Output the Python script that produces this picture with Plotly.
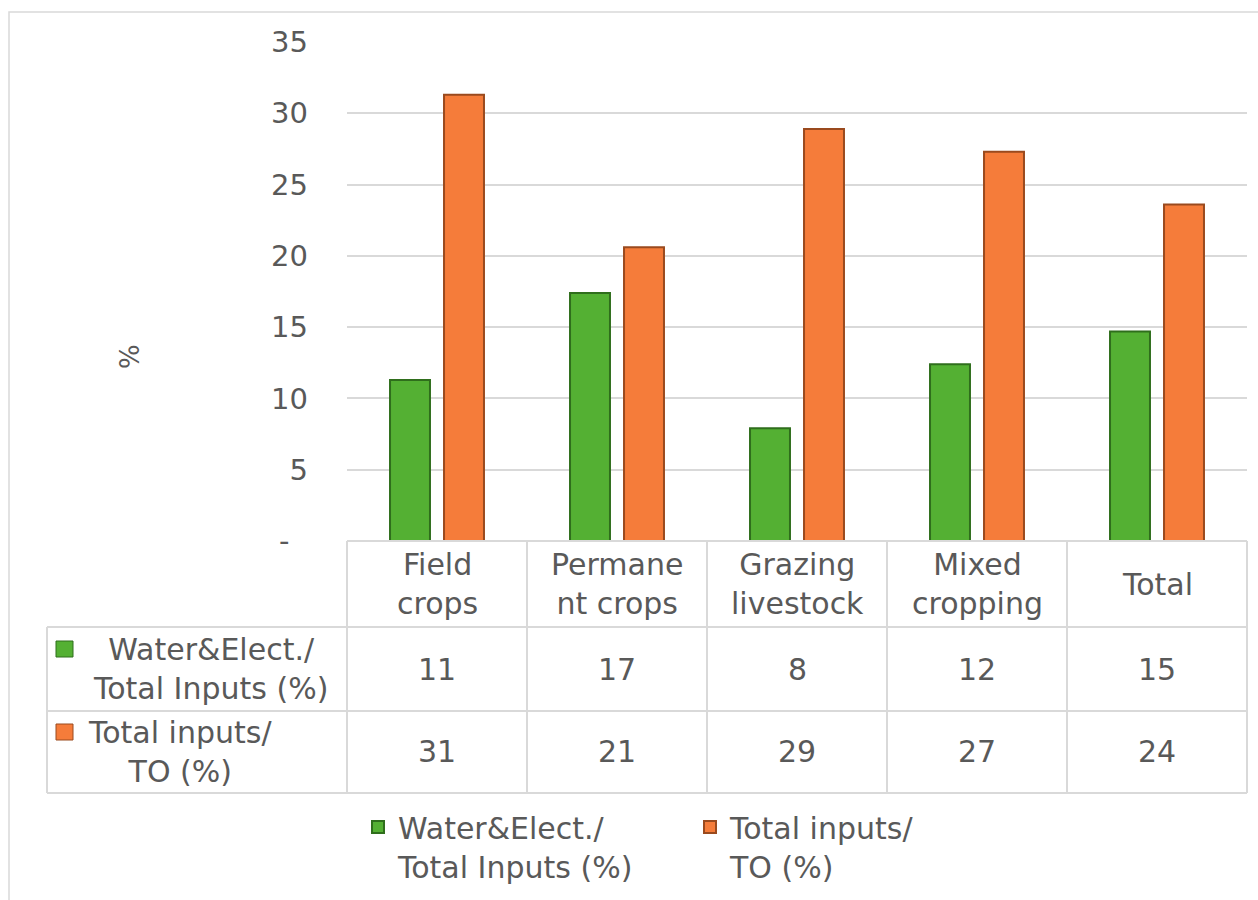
import plotly.graph_objects as go

categories = ["Field crops", "Permanent crops", "Grazing livestock", "Mixed cropping", "Total"]
header_labels = ["Field<br>crops", "Permane<br>nt crops", "Grazing<br>livestock", "Mixed<br>cropping", "Total"]
water_elect = [11.3, 17.4, 7.9, 12.4, 14.7]
total_inputs = [31.3, 20.6, 28.9, 27.3, 23.6]
series_names = ["Water&Elect./<br>Total Inputs (%)", "Total inputs/<br>TO (%)"]
tick_vals = [0, 5, 10, 15, 20, 25, 30, 35]
tick_text = ["-\u00a0\u00a0", "5", "10", "15", "20", "25", "30", "35"]

GREEN = "#54B033"
GREEN_EDGE = "#2F6E1C"
ORANGE = "#F57C3A"
ORANGE_EDGE = "#9A4A1E"
TEXT = "#595959"
GRID = "#D9D9D9"
FONT = "DejaVu Sans"
FS = 30

W, H = 1258, 900
ML, MR, MT, MB = 347, 11, 42, 359
PW = W - ML - MR
PH = H - MT - MB

def px_y(py):
    return (H - MB - py) / PH

def px_x(px):
    return (px - ML) / PW

fig = go.Figure()
fig.add_trace(go.Bar(x=categories, y=water_elect, name=series_names[0],
                     marker=dict(color=GREEN, line=dict(color=GREEN_EDGE, width=2))))
fig.add_trace(go.Bar(x=categories, y=total_inputs, name=series_names[1],
                     marker=dict(color=ORANGE, line=dict(color=ORANGE_EDGE, width=2))))

shapes = []
annotations = []
n = len(categories)
y_top, y_r1, y_r2, y_bot = 541, 627, 711, 793
x_left = 47
line = dict(color=GRID, width=2)
shapes.append(dict(type="line", xref="paper", yref="paper", x0=0, x1=1,
                   y0=px_y(y_top), y1=px_y(y_top), line=line))
for yy in (y_r1, y_r2, y_bot):
    shapes.append(dict(type="line", xref="paper", yref="paper", x0=px_x(x_left), x1=1,
                       y0=px_y(yy), y1=px_y(yy), line=line))
for i in range(n + 1):
    shapes.append(dict(type="line", xref="paper", yref="paper", x0=i / n, x1=i / n,
                       y0=px_y(y_top), y1=px_y(y_bot), line=line))
shapes.append(dict(type="line", xref="paper", yref="paper", x0=px_x(x_left), x1=px_x(x_left),
                   y0=px_y(y_r1), y1=px_y(y_bot), line=line))
shapes.append(dict(type="rect", xref="paper", yref="paper", x0=px_x(9), x1=px_x(1300),
                   y0=px_y(1000), y1=px_y(12), line=dict(color="#D9D9D9", width=1.5)))
for (ky, col, edge) in ((649, GREEN, GREEN_EDGE), (732, ORANGE, ORANGE_EDGE)):
    shapes.append(dict(type="rect", xref="paper", yref="paper", x0=px_x(56), x1=px_x(73),
                       y0=px_y(ky + 8), y1=px_y(ky - 8), fillcolor=col, line=dict(color=edge, width=1)))

font = dict(family=FONT, size=FS, color=TEXT)
common = dict(showarrow=False, font=font, align="center", xanchor="center", yanchor="middle")
for cat, lab, v1, v2 in zip(categories, header_labels, water_elect, total_inputs):
    annotations.append(dict(x=cat, xref="x", y=px_y(584), yref="paper", text=lab, **common))
    annotations.append(dict(x=cat, xref="x", y=px_y(669), yref="paper", text=f"{round(v1):d}", **common))
    annotations.append(dict(x=cat, xref="x", y=px_y(752), yref="paper", text=f"{round(v2):d}", **common))
annotations.append(dict(x=px_x(210), xref="paper", y=px_y(669), yref="paper", text=series_names[0], **common))
annotations.append(dict(x=px_x(180), xref="paper", y=px_y(752), yref="paper", text=series_names[1], **common))
annotations.append(dict(x=px_x(130), xref="paper", y=px_y(357), yref="paper", text="%",
                        textangle=-90, showarrow=False, xanchor="center", yanchor="middle",
                        font=dict(family=FONT, size=26, color=TEXT)))

fig.update_layout(
    width=W, height=H,
    margin=dict(l=ML, r=MR, t=MT, b=MB, autoexpand=False),
    paper_bgcolor="white", plot_bgcolor="white",
    barmode="group", bargap=0.4, bargroupgap=0.26,
    font=font,
    showlegend=True,
    legend=dict(orientation="h", x=px_x(358), xanchor="left", y=px_y(801), yanchor="top",
                font=font, valign="top", traceorder="normal", entrywidth=287),
    xaxis=dict(showticklabels=False, showgrid=False, zeroline=False, showline=False),
    yaxis=dict(range=[0, 35], tickvals=tick_vals, ticktext=tick_text, showgrid=True,
               gridcolor=GRID, gridwidth=2, zeroline=False, showline=False,
               ticklabelstandoff=38, tickfont=dict(family=FONT, size=29, color=TEXT)),
    shapes=shapes, annotations=annotations,
)
fig.write_html("out.html", config={"displayModeBar": False},
               post_script="document.body.style.margin='0';")
